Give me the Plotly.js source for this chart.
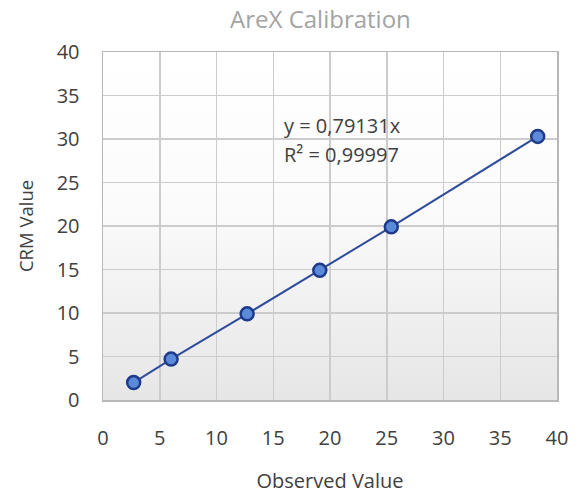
<!DOCTYPE html>
<html>
<head>
<meta charset="utf-8">
<script src="https://cdn.plot.ly/plotly-3.0.1.min.js"></script>
<style>html,body{margin:0;padding:0;background:#fff;}#chart{width:588px;height:498px;}</style>
</head>
<body>
<div id="chart"></div>
<script>
const observed = [2.7, 6.0, 12.7, 19.1, 25.4, 38.3];
const crm = [2.0, 4.7, 9.9, 14.9, 19.9, 30.3];
const xTicks = [0, 5, 10, 15, 20, 25, 30, 35, 40];
const yTicks = [0, 5, 10, 15, 20, 25, 30, 35, 40];
const equationText = 'y = 0,79131x';
const r2Text = 'R² = 0,99997';

const grad = 'data:image/svg+xml;utf8,' + encodeURIComponent(
  '<svg xmlns="http://www.w3.org/2000/svg" width="100" height="100" preserveAspectRatio="none">' +
  '<defs><linearGradient id="g" x1="0" y1="0" x2="0" y2="1">' +
  '<stop offset="0" stop-color="#ffffff"/><stop offset="0.45" stop-color="#fbfbfb"/><stop offset="1" stop-color="#e6e6e6"/>' +
  '</linearGradient></defs><rect width="100" height="100" fill="url(#g)"/></svg>');

const trace = {
  x: observed, y: crm, mode: 'lines+markers', type: 'scatter',
  line: {color: '#2f4b9c', width: 2},
  marker: {size: 13, color: '#5a8ad8', line: {color: '#1e3a8a', width: 2.5}},
  hoverinfo: 'skip'
};

const font = "'Open Sans', 'Liberation Sans', sans-serif";
const layout = {
  width: 588, height: 498,
  margin: {l: 103, r: 31, t: 52, b: 98},
  paper_bgcolor: '#ffffff', plot_bgcolor: 'rgba(0,0,0,0)',
  showlegend: false,
  title: {text: 'AreX Calibration', x: 0.545, xanchor: 'center', y: 0.96, yanchor: 'middle',
          font: {family: font, size: 24, color: '#a3a3a3'}},
  font: {family: font, color: '#404040'},
  xaxis: {range: [0, 40], tickvals: xTicks, ticktext: xTicks.map(String),
          showgrid: true, gridcolor: '#cccccc', gridwidth: 1.5,
          showline: true, linecolor: '#b8b8b8', linewidth: 1.5, mirror: true,
          zeroline: false, ticks: '', ticklabelstandoff: 19,
          tickfont: {size: 20, color: '#404040', family: font},
          title: {text: 'Observed Value', standoff: 24, font: {size: 20, color: '#404040', family: font}}},
  yaxis: {range: [0, 40], tickvals: yTicks, ticktext: yTicks.map(String),
          showgrid: true, gridcolor: '#cccccc', gridwidth: 1.5,
          showline: true, linecolor: '#b8b8b8', linewidth: 1.5, mirror: true,
          zeroline: false, ticks: '', ticklabelstandoff: 18,
          tickfont: {size: 20, color: '#404040', family: font},
          title: {text: 'CRM Value', standoff: 18, font: {size: 18.5, color: '#404040', family: font}}},
  images: [{source: grad, xref: 'paper', yref: 'paper', x: 0, y: 1, sizex: 1, sizey: 1,
            sizing: 'stretch', layer: 'below', xanchor: 'left', yanchor: 'top'}],
  annotations: [
    {x: 15.8, y: 31.6, xref: 'x', yref: 'y', text: equationText, showarrow: false,
     xanchor: 'left', yanchor: 'middle', font: {size: 20, color: '#404040', family: font}},
    {x: 15.8, y: 28.2, xref: 'x', yref: 'y', text: r2Text, showarrow: false,
     xanchor: 'left', yanchor: 'middle', font: {size: 20, color: '#404040', family: font}}
  ]
};

Plotly.newPlot('chart', [trace], layout, {staticPlot: true, displayModeBar: false});
</script>
</body>
</html>
